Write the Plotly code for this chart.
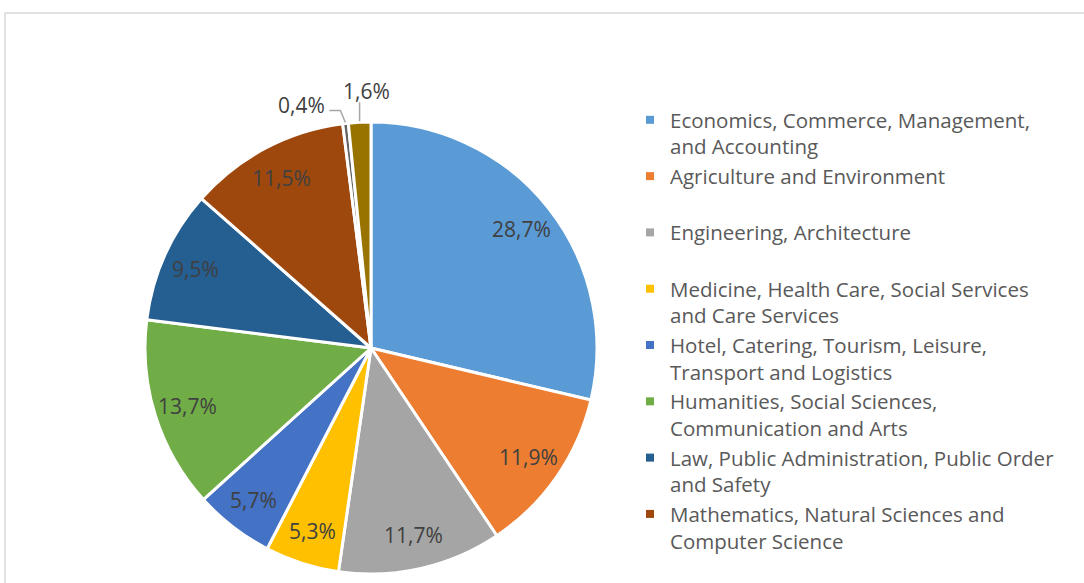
import numpy as np
import plotly.graph_objects as go

# ---------------- data ----------------
categories = [
    "Economics, Commerce, Management,<br>and Accounting",
    "Agriculture and Environment<br> ",
    "Engineering, Architecture<br> ",
    "Medicine, Health Care, Social Services<br>and Care Services",
    "Hotel, Catering, Tourism, Leisure,<br>Transport and Logistics",
    "Humanities, Social Sciences,<br>Communication and Arts",
    "Law, Public Administration, Public Order<br>and Safety",
    "Mathematics, Natural Sciences and<br>Computer Science",
    "(unlabelled 1)",
    "(unlabelled 2)",
]
values = [28.7, 11.9, 11.7, 5.3, 5.7, 13.7, 9.5, 11.5, 0.4, 1.6]
value_labels = ["28,7%", "11,9%", "11,7%", "5,3%", "5,7%", "13,7%", "9,5%", "11,5%", "0,4%", "1,6%"]
legend_count = 8  # only the first 8 entries are shown in the legend

colors = ["#5B9BD5", "#ED7D31", "#A5A5A5", "#FFC000", "#4472C4",
          "#70AD47", "#255E91", "#9E480E", "#636363", "#997300"]

# ---------------- geometry ----------------
W, H = 1084, 583
cx, cy, R = 371, 348, 226          # pie centre / radius in px (from top-left)
FONT = "Open Sans"
TXT_COL = "#404040"
LEG_COL = "#595959"

def px2paper(x, y):
    return x / W, 1 - y / H

fig = go.Figure()

x0, y_top = px2paper(cx - R, cy - R)
x1, y_bot = px2paper(cx + R, cy + R)
fig.add_trace(go.Pie(
    labels=categories,
    values=values,
    sort=False,
    direction="clockwise",
    rotation=0,
    marker=dict(colors=colors, line=dict(color="white", width=3)),
    textinfo="none",
    hoverinfo="label+percent",
    showlegend=False,
    domain=dict(x=[x0, x1], y=[y_bot, y_top]),
))

# legend entries (first 8 categories)
for name, col in zip(categories[:legend_count], colors[:legend_count]):
    fig.add_trace(go.Scatter(
        x=[None], y=[None], mode="markers", name=name,
        marker=dict(symbol="square", size=8, color=col),
        hoverinfo="skip",
    ))

# ---------------- data labels ----------------
vals = np.array(values, dtype=float)
mid = (np.cumsum(vals) - vals / 2) / vals.sum() * 2 * np.pi
annotations = []
shapes = []
r_in = 0.85 * R
for i in range(legend_count):
    lx = cx + r_in * np.sin(mid[i])
    ly = cy - r_in * np.cos(mid[i])
    px_, py_ = px2paper(lx, ly)
    annotations.append(dict(x=px_, y=py_, xref="paper", yref="paper",
                            text=value_labels[i], showarrow=False,
                            font=dict(family=FONT, size=21, color=TXT_COL),
                            xanchor="center", yanchor="middle"))

LINE_COL = "#A6A6A6"
# 0,4% label with elbow leader line
i = 8
ex = cx + (R + 1) * np.sin(mid[i]); ey = cy - (R + 1) * np.cos(mid[i])
p_a = px2paper(ex, ey)
p_b = px2paper(ex - 5, ey - 12)
p_c = px2paper(ex - 16, ey - 12)
shapes.append(dict(type="path", xref="paper", yref="paper",
                   path=f"M {p_a[0]},{p_a[1]} L {p_b[0]},{p_b[1]} L {p_c[0]},{p_c[1]}",
                   line=dict(color=LINE_COL, width=1.5)))
tx, ty = px2paper(ex - 18, ey - 17)
annotations.append(dict(x=tx, y=ty, xref="paper", yref="paper",
                        text=value_labels[i], showarrow=False,
                        font=dict(family=FONT, size=21, color=TXT_COL),
                        xanchor="right", yanchor="middle"))
# 1,6% label with vertical leader line
i = 9
ex = cx + (R + 1) * np.sin(mid[i]); ey = cy - (R + 1) * np.cos(mid[i])
p_a = px2paper(ex, ey)
p_b = px2paper(ex, ey - 19)
shapes.append(dict(type="path", xref="paper", yref="paper",
                   path=f"M {p_a[0]},{p_a[1]} L {p_b[0]},{p_b[1]}",
                   line=dict(color=LINE_COL, width=1.5)))
tx, ty = px2paper(ex + 7, ey - 30)
annotations.append(dict(x=tx, y=ty, xref="paper", yref="paper",
                        text=value_labels[i], showarrow=False,
                        font=dict(family=FONT, size=21, color=TXT_COL),
                        xanchor="center", yanchor="middle"))

# chart-area border (extends past the right/bottom edges)
bx0, by0 = px2paper(5, 13)
shapes.append(dict(type="rect", xref="paper", yref="paper",
                   x0=bx0, y0=-0.2, x1=1.2, y1=by0,
                   line=dict(color="#D9D9D9", width=1.5), layer="below"))

fig.update_layout(
    width=W, height=H,
    margin=dict(l=0, r=0, t=0, b=0),
    paper_bgcolor="white", plot_bgcolor="white",
    xaxis=dict(visible=False), yaxis=dict(visible=False),
    annotations=annotations, shapes=shapes,
    showlegend=True,
    legend=dict(
        x=630 / W, y=1 - 100 / H, xanchor="left", yanchor="top",
        font=dict(family=FONT, size=20.5, color=LEG_COL),
        valign="top", bgcolor="rgba(0,0,0,0)", traceorder="normal",
    ),
    font=dict(family=FONT),
)

fig.write_html(
    "out.html",
    config={"displayModeBar": False},
    post_script="document.body.style.margin='0';document.body.style.overflow='hidden';",
)
